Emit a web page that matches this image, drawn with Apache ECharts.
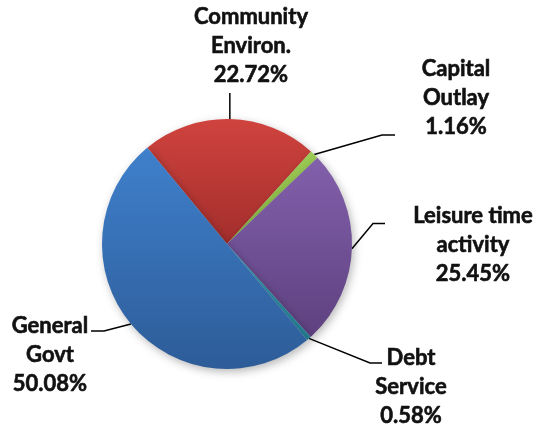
<!DOCTYPE html>
<html>
<head>
<meta charset="utf-8">
<script src="https://cdn.jsdelivr.net/npm/echarts@6/dist/echarts.min.js"></script>
<style>
html,body{margin:0;padding:0;background:#fff;}
#chart{width:538px;height:428px;}
</style>
</head>
<body>
<div id="chart"></div>
<script>
// ---- data ----
const categories = ['Community\nEnviron.', 'Capital\nOutlay', 'Leisure time\nactivity', 'Debt\nService', 'General\nGovt'];
const values = [22.72, 1.16, 25.45, 0.58, 50.08];
const colorsTop = ['#D0433E', '#9BCB55', '#8260AB', '#33A6BF', '#3F80CC'];
const colorsBottom = ['#A32E2C', '#82AE3E', '#5E4180', '#247F94', '#2D5C98'];

// ---- label placement (layout only) ----
const labelPos = [
  {x: 251, y: 46, mid: null, end: [null, 93]},
  {x: 456, y: 98, mid: [382, 135], end: [395, 135]},
  {x: 473, y: 245, mid: [373, 223.5], end: [385, 223.5]},
  {x: 411, y: 387, mid: [370, 363], end: [382, 363]},
  {x: 50, y: 355, mid: [104, 331], end: [91, 331]}
];

const chart = echarts.init(document.getElementById('chart'), null, {renderer: 'canvas'});
const data = categories.map((c, i) => ({
  name: c,
  value: values[i],
  itemStyle: {
    color: new echarts.graphic.LinearGradient(0, 0, 0, 1, [
      {offset: 0, color: colorsTop[i]},
      {offset: 1, color: colorsBottom[i]}
    ])
  }
}));

chart.setOption({
  animation: false,
  backgroundColor: '#ffffff',
  series: [{
    type: 'pie',
    center: [227, 244],
    radius: 125,
    startAngle: 129.6,
    clockwise: true,
    data: data,
    itemStyle: {
      borderWidth: 0,
      shadowBlur: 8,
      shadowColor: 'rgba(0,0,0,0.28)',
      shadowOffsetX: 2,
      shadowOffsetY: 3
    },
    label: {
      show: true,
      formatter: p => p.name + '\n' + p.value.toFixed(2) + '%',
      fontFamily: 'Lato',
      fontWeight: 'bold',
      fontSize: 22,
      lineHeight: 29,
      color: '#111111',
      textBorderColor: '#111111',
      textBorderWidth: 0.6,
      align: 'center',
      overflow: 'none',
      width: 200
    },
    labelLine: {
      show: true,
      lineStyle: {color: '#000000', width: 1.5},
      smooth: false
    },
    labelLayout: function (params) {
      const lp = labelPos[params.dataIndex];
      const p0 = params.labelLinePoints ? params.labelLinePoints[0] : [0, 0];
      let pts;
      if (lp.mid === null) {
        pts = [[p0[0], p0[1]], [p0[0], lp.end[1] + 1], [p0[0], lp.end[1]]];
      } else {
        pts = [[p0[0], p0[1]], lp.mid, lp.end];
      }
      return {
        x: lp.x,
        y: lp.y,
        align: 'center',
        verticalAlign: 'middle',
        labelLinePoints: pts
      };
    }
  }]
});
</script>
</body>
</html>
